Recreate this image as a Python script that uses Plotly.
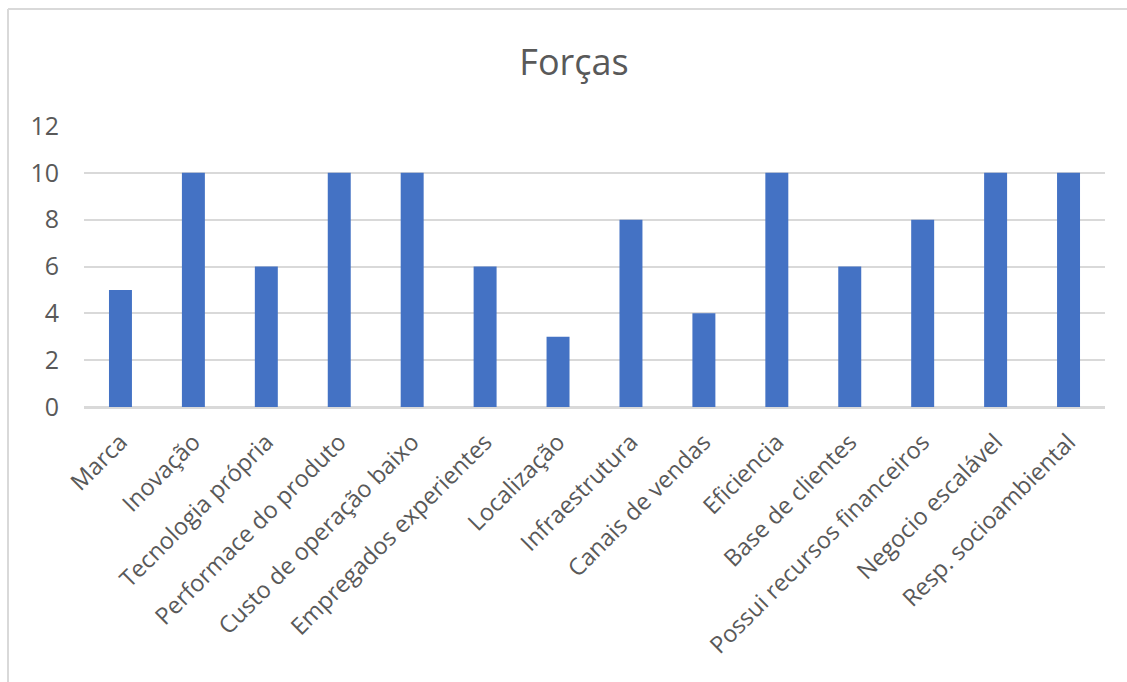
import plotly.graph_objects as go

# Pontuação de cada força
categorias = [
    "Marca", "Inovação", "Tecnologia própria", "Performace do produto",
    "Custo de operação baixo", "Empregados experientes", "Localização",
    "Infraestrutura", "Canais de vendas", "Eficiencia", "Base de clientes",
    "Possui recursos financeiros", "Negocio escalável", "Resp. socioambiental",
]
pontuacao = [5, 10, 6, 10, 10, 6, 3, 8, 4, 10, 6, 8, 10, 10]
y_ticks = [0, 2, 4, 6, 8, 10, 12]

W, H = 1127, 682
L, R, T, B = 84, 22, 126, 275
pw, ph = W - L - R, H - T - B

FONT = "Open Sans"
TXT = "#595959"
GRID = "#d9d9d9"

fig = go.Figure(
    go.Bar(
        x=categorias,
        y=pontuacao,
        marker=dict(color="#4472C4", line=dict(width=0)),
    )
)

# frame of the chart area (top and left edges)
px = lambda x: (x - L) / pw
py = lambda y: (H - B - y) / ph
fig.add_shape(type="line", xref="paper", yref="paper",
              x0=px(8), x1=px(1127), y0=py(9), y1=py(9),
              line=dict(color=GRID, width=2))
fig.add_shape(type="line", xref="paper", yref="paper",
              x0=px(8), x1=px(8), y0=py(9), y1=py(682),
              line=dict(color=GRID, width=2))

fig.update_layout(
    width=W, height=H,
    margin=dict(l=L, r=R, t=T, b=B),
    paper_bgcolor="white", plot_bgcolor="white",
    bargap=0.685,
    showlegend=False,
    font=dict(family=FONT, color=TXT),
    title=dict(text="Forças", x=574 / W, xanchor="center", y=1 - 62 / H,
               yanchor="middle", font=dict(size=36, color=TXT, family=FONT)),
    xaxis=dict(
        tickangle=-45, tickfont=dict(size=23.5, color=TXT),
        showgrid=False, showline=True, linecolor=GRID, linewidth=2,
        ticks="", ticklabelstandoff=10,
    ),
    yaxis=dict(
        range=[0, 12], tickvals=y_ticks, tickfont=dict(size=25, color=TXT),
        showgrid=True, gridcolor=GRID, gridwidth=2,
        zeroline=True, zerolinecolor=GRID, zerolinewidth=2,
        showline=False, ticks="", ticklabelstandoff=24,
    ),
)

fig.write_html("out.html")
